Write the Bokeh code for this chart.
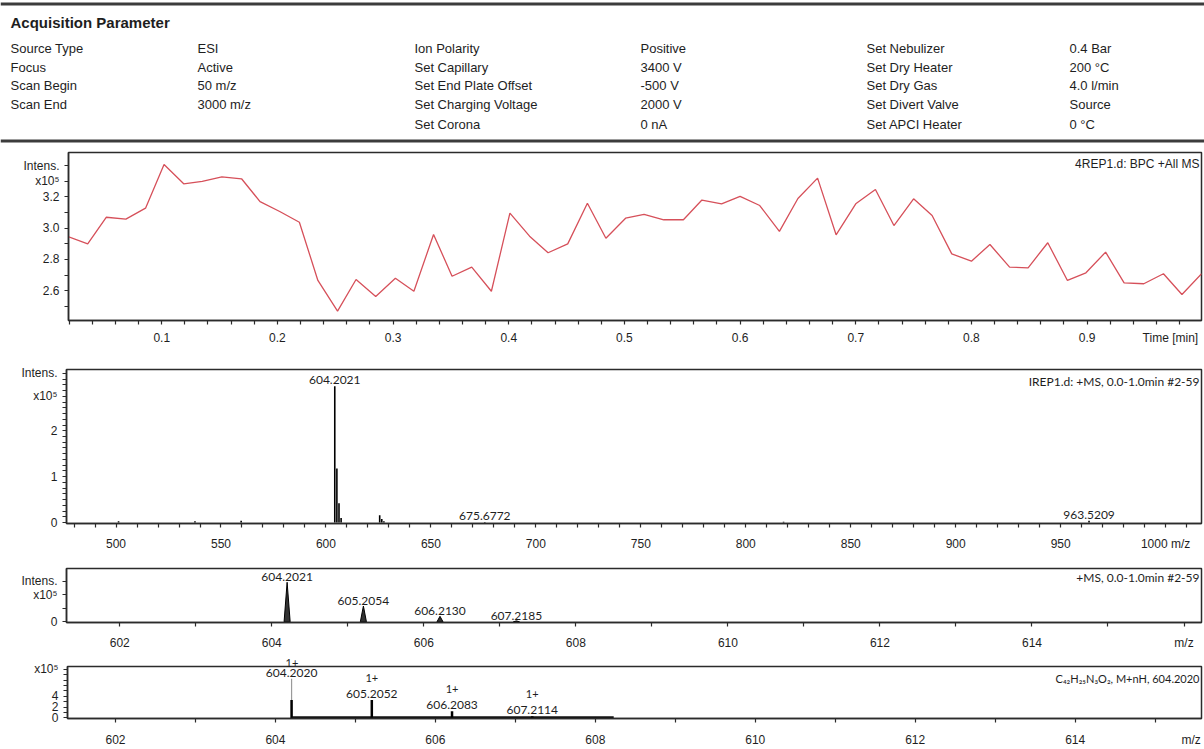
from bokeh.plotting import figure
from bokeh.layouts import column
from bokeh.models import (Range1d, FixedTicker, Label, LabelSet, ColumnDataSource,
                          Span, PrintfTickFormatter, Title, Plot)
from bokeh.embed import file_html
from bokeh.resources import INLINE
from bokeh.core.properties import value
import numpy as np

# ---------------- data ----------------
hdr_title = "Acquisition Parameter"
hdr_lab1 = ["Source Type", "Focus", "Scan Begin", "Scan End"]
hdr_val1 = ["ESI", "Active", "50 m/z", "3000 m/z"]
hdr_lab2 = ["Ion Polarity", "Set Capillary", "Set End Plate Offset", "Set Charging Voltage", "Set Corona"]
hdr_val2 = ["Positive", "3400 V", "-500 V", "2000 V", "0 nA"]
hdr_lab3 = ["Set Nebulizer", "Set Dry Heater", "Set Dry Gas", "Set Divert Valve", "Set APCI Heater"]
hdr_val3 = ["0.4 Bar", "200 °C", "4.0 l/min", "Source", "0 °C"]

bpc_title = "4REP1.d: BPC +All MS"
bpc_time = [0.019, 0.036, 0.052, 0.069, 0.086, 0.102, 0.119, 0.135, 0.152, 0.169,
            0.185, 0.202, 0.219, 0.235, 0.252, 0.268, 0.285, 0.302, 0.318, 0.335,
            0.351, 0.368, 0.385, 0.401, 0.418, 0.434, 0.451, 0.468, 0.484, 0.501,
            0.517, 0.534, 0.551, 0.567, 0.584, 0.600, 0.617, 0.634, 0.650, 0.667,
            0.683, 0.700, 0.717, 0.733, 0.750, 0.766, 0.783, 0.800, 0.816, 0.833,
            0.849, 0.866, 0.883, 0.899, 0.916, 0.932, 0.949, 0.966, 0.982, 0.999]
bpc_int = [2.947, 2.900, 3.070, 3.058, 3.128, 3.407, 3.284, 3.300, 3.328, 3.316,
           3.170, 3.107, 3.038, 2.666, 2.470, 2.672, 2.564, 2.680, 2.597, 2.960,
           2.693, 2.751, 2.597, 3.096, 2.949, 2.843, 2.900, 3.160, 2.936, 3.064,
           3.088, 3.054, 3.054, 3.180, 3.156, 3.204, 3.145, 2.980, 3.190, 3.320,
           2.958, 3.156, 3.247, 3.017, 3.188, 3.081, 2.836, 2.789, 2.896, 2.751,
           2.747, 2.907, 2.666, 2.715, 2.847, 2.651, 2.645, 2.709, 2.576, 2.709]

ms_title = "IREP1.d: +MS, 0.0-1.0min #2-59"
ms_mz = [501.2, 537.6, 559.6, 604.2021, 605.2054, 606.2130, 607.2185,
         625.6, 626.6, 627.6, 675.6772, 818.0, 963.5209]
ms_int = [0.03, 0.03, 0.04, 2.97, 1.18, 0.42, 0.10, 0.16, 0.08, 0.03, 0.015, 0.02, 0.04]
ms_lab_mz = [604.2021, 675.6772, 963.5209]
ms_lab_int = [2.97, 0.015, 0.04]

p3_title = "+MS, 0.0-1.0min #2-59"
p3_mz = [604.2021, 605.2054, 606.2130, 607.2185]
p3_int = [2.93, 1.17, 0.41, 0.07]

p4_title = "C\u2084\u2082H\u2082\u2085N\u2083O\u2082, M+nH, 604.2020"
p4_mz = [604.2020, 605.2052, 606.2083, 607.2114]
p4_bar = [3.33, 3.33, 1.25, 0.30]
p4_lab_y = [7.26, 3.33, 1.25, 0.30]
p4_sim_mz = [604.2020]
p4_sim_int = [7.26]
p4_charge = ["1+", "1+", "1+", "1+"]
p4_base_mz = [604.20, 608.23]
p4_base_int = [0.12, 0.12]

# ---------------- layout helpers ----------------
W = 1204
AX = "#2b2b2b"
TXT = "#1e1e1e"
FONT = "Liberation Sans"
EXTRA = {"frame_align": False} if "frame_align" in Plot.properties() else {}


def make_panel(rt, rb, fl, ft, fb, xr, yr):
    p = figure(width=W, height=rb - rt, x_range=Range1d(*xr), y_range=Range1d(*yr),
               output_backend="svg", toolbar_location=None, tools="",
               min_border_left=fl, min_border_right=3,
               min_border_top=int(round(ft - rt)), min_border_bottom=int(round(rb - fb)),
               **EXTRA)
    p.grid.visible = False
    p.outline_line_color = AX
    p.outline_line_width = 1.5
    p.background_fill_color = "white"
    p.border_fill_color = "white"
    for ax in (p.xaxis[0], p.yaxis[0]):
        ax.axis_line_color = AX
        ax.axis_line_width = 1.5
        ax.major_tick_line_color = None
        ax.minor_tick_line_color = AX
        ax.minor_tick_line_width = 1.2
        ax.major_tick_out = 0
        ax.major_tick_in = 0
        ax.minor_tick_out = 4
        ax.minor_tick_in = 0
        ax.major_label_text_font = FONT
        ax.major_label_text_font_size = "12px"
        ax.major_label_text_color = TXT
    p.yaxis.major_label_standoff = 5
    return p


def corner_title(p, txt, dy, size="12px", font=FONT):
    p.add_layout(Label(x=p.x_range.end, y=p.y_range.end, text=txt, text_align="right",
                       text_baseline="middle", x_offset=-2, y_offset=-dy,
                       text_font=font, text_font_size=size, text_color=TXT))


# ---------------- header ----------------
h = figure(width=W, height=146, x_range=Range1d(0, W), y_range=Range1d(146, 0),
           output_backend="svg", toolbar_location=None, tools="",
           x_axis_type=None, y_axis_type=None, min_border=0, **EXTRA)
h.grid.visible = False
h.outline_line_color = None
h.add_layout(Span(location=3.5, dimension="width", line_color="#3c3c3c", line_width=3))
h.add_layout(Span(location=140.5, dimension="width", line_color="#3c3c3c", line_width=3))
h.text(x=[10], y=[22], text=[hdr_title], text_font=value(FONT), text_font_size="15px",
       text_font_style="bold", text_baseline="middle", text_color=TXT)
rows = [48, 66.5, 85, 104, 124]
cols = [(10, hdr_lab1), (197, hdr_val1), (414, hdr_lab2), (640, hdr_val2),
        (866, hdr_lab3), (1069, hdr_val3)]
for cx, items in cols:
    h.text(x=[cx] * len(items), y=rows[:len(items)], text=items, text_font=value(FONT),
           text_font_size="13px", text_baseline="middle", text_color=TXT)

# ---------------- BPC ----------------
p1 = make_panel(146, 348, 68, 152, 320, (0.0194, 0.9989), (2.41, 3.484))
p1.line(bpc_time, bpc_int, line_color="#d6505a", line_width=1.3)
p1.xaxis.ticker = FixedTicker(ticks=[0.1, 0.2, 0.3, 0.4, 0.5, 0.6, 0.7, 0.8, 0.9, 0.972],
                              minor_ticks=[round(v, 2) for v in np.arange(0.02, 0.99, 0.02)])
p1.xaxis.formatter = PrintfTickFormatter(format="%.1f")
p1.xaxis.major_label_overrides = {0.972: "Time [min]"}
p1.xaxis.major_label_standoff = 6
p1.yaxis.ticker = FixedTicker(ticks=[2.6, 2.8, 3.0, 3.2, 3.3, 3.4],
                              minor_ticks=[2.5, 2.6, 2.7, 2.8, 2.9, 3.0, 3.1, 3.2, 3.3, 3.4])
p1.yaxis.formatter = PrintfTickFormatter(format="%.1f")
p1.yaxis.major_label_overrides = {3.3: "x10\u2075", 3.4: "Intens."}
corner_title(p1, bpc_title, 11)

# ---------------- MS full ----------------
p2 = make_panel(348, 553, 66, 369.3, 527.7, (476.4, 1017.1), (-0.02, 3.335))
p2.segment(x0=ms_mz, y0=[0] * len(ms_mz), x1=ms_mz, y1=ms_int, line_color="black", line_width=1.6)
p2.xaxis.ticker = FixedTicker(ticks=list(range(500, 1001, 50)), minor_ticks=list(range(480, 1011, 10)))
p2.xaxis.formatter = PrintfTickFormatter(format="%d")
p2.xaxis.major_label_overrides = {1000: "1000 m/z"}
p2.xaxis.major_label_standoff = 9
p2.yaxis.ticker = FixedTicker(ticks=[0, 1, 2, 2.75, 3.25],
                              minor_ticks=[round(v, 3) for v in np.arange(0.0, 3.3, 0.125)])
p2.yaxis.formatter = PrintfTickFormatter(format="%d")
p2.yaxis.major_label_overrides = {2.75: "x10\u2075", 3.25: "Intens."}
src2 = ColumnDataSource(dict(x=ms_lab_mz, y=ms_lab_int, t=[f"{m:.4f}" for m in ms_lab_mz]))
p2.add_layout(LabelSet(x="x", y="y", text="t", source=src2, text_align="center",
                       text_baseline="bottom", y_offset=2, text_font=value("Lato"),
                       text_font_size="12px", text_color=TXT))
corner_title(p2, ms_title, 12, font="Lato")

# ---------------- zoom MS ----------------
p3 = make_panel(553, 652, 66, 568.3, 627.2, (601.30, 616.23), (-0.05, 3.95))
hw = 0.04
p3.patches(xs=[[m - hw, m, m + hw] for m in p3_mz], ys=[[0, v, 0] for v in p3_int],
           fill_color="#333333", line_color="black", line_width=1)
p3.xaxis.ticker = FixedTicker(ticks=[602, 604, 606, 608, 610, 612, 614, 616],
                              minor_ticks=list(range(602, 617)))
p3.xaxis.formatter = PrintfTickFormatter(format="%d")
p3.xaxis.major_label_overrides = {616: "m/z"}
p3.xaxis.major_label_standoff = 9
p3.yaxis.ticker = FixedTicker(ticks=[0, 2, 3], minor_ticks=[0, 1, 2, 3])
p3.yaxis.formatter = PrintfTickFormatter(format="%d")
p3.yaxis.major_label_overrides = {2: "x10\u2075", 3: "Intens."}
src3 = ColumnDataSource(dict(x=p3_mz, y=p3_int, t=[f"{m:.4f}" for m in p3_mz]))
p3.add_layout(LabelSet(x="x", y="y", text="t", source=src3, text_align="center",
                       text_baseline="bottom", y_offset=1, text_font=value("Lato"),
                       text_font_size="12px", text_color=TXT))
corner_title(p3, p3_title, 9, font="Lato")

# ---------------- simulated pattern ----------------
x4 = (601.40, 615.58)
p4 = make_panel(652, 749, 67, 666, 724.3, x4, (-0.1, 9.5))
p4.segment(x0=p4_base_mz[0:1], y0=p4_base_int[0:1], x1=p4_base_mz[1:2], y1=p4_base_int[1:2],
           line_color="#111111", line_width=2)
p4.segment(x0=p4_sim_mz, y0=[0], x1=p4_sim_mz, y1=p4_sim_int, line_color="#9a9a9a", line_width=1.2)
p4.segment(x0=p4_mz, y0=[0] * 4, x1=p4_mz, y1=p4_bar, line_color="black", line_width=2.5)
p4.xaxis.ticker = FixedTicker(ticks=[602, 604, 606, 608, 610, 612, 614, 615.45],
                              minor_ticks=list(range(602, 616)))
p4.xaxis.formatter = PrintfTickFormatter(format="%d")
p4.xaxis.major_label_overrides = {615.45: "m/z"}
p4.xaxis.major_label_standoff = 10
p4.yaxis.ticker = FixedTicker(ticks=[0, 2, 4, 9], minor_ticks=list(range(0, 10)))
p4.yaxis.formatter = PrintfTickFormatter(format="%d")
p4.yaxis.major_label_overrides = {9: "x10\u2075"}
src4 = ColumnDataSource(dict(x=p4_mz, y=p4_lab_y, t=[f"{m:.4f}" for m in p4_mz], c=p4_charge))
p4.add_layout(LabelSet(x="x", y="y", text="t", source=src4, text_align="center",
                       text_baseline="bottom", y_offset=2, text_font=value("Lato"),
                       text_font_size="12px", text_color=TXT))
src4c = ColumnDataSource(dict(x=p4_mz[1:], y=p4_lab_y[1:], c=p4_charge[1:]))
p4.add_layout(LabelSet(x="x", y="y", text="c", source=src4c, text_align="center",
                       text_baseline="bottom", y_offset=18, text_font=value("Lato"),
                       text_font_size="11px", text_color=TXT))
# charge label of the top peak sits above the frame: use a title in the top border
frame_w4 = W - 67 - 3
off4 = (p4_mz[0] - x4[0]) / (x4[1] - x4[0]) * frame_w4 - 6
p4.add_layout(Title(text=p4_charge[0], align="left", offset=off4, standoff=0,
                    text_font="Lato", text_font_size="11px", text_font_style="normal",
                    text_color=TXT), "above")
corner_title(p4, p4_title, 12, size="11px", font="Lato")

layout = column(h, p1, p2, p3, p4, spacing=0)
open("out.html", "w").write(file_html(layout, INLINE))
